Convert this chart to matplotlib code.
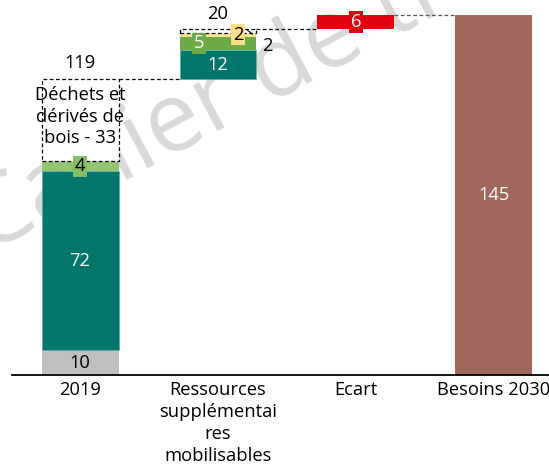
import matplotlib
matplotlib.use("Agg")
import matplotlib.pyplot as plt
import numpy as np

plt.rcParams['font.family'] = ['Open Sans', 'DejaVu Sans']

CATEGORIES = ["2019", "Ressources\nsupplémentai\nres\nmobilisables", "Ecart", "Besoins 2030"]

# 2019 stack (bottom -> top)
Y2019_VALUES = [10, 72, 4, 33]
Y2019_LABELS = ["10", "72", "4", "Déchets et\ndérivés de\nbois - 33"]

# additional mobilisable resources (bottom -> top)
RES_VALUES = [12, 5, 1.6, 1.7]
RES_LABELS = ["12", "5", "2", "2"]

ECART = 5.7
ECART_LABEL = "6"
BESOINS = 145
TOTAL_LABELS = ["119", "20"]

GRAY = "#bfbfbf"
TEAL = "#00766c"
GREEN_LIGHT = "#93c572"
GREEN = "#6dab48"
YELLOW = "#fde290"
RED = "#e1000f"
BROWN = "#a0685a"
W = 0.558
FS = 13.2


def dashed_box(ax, x, bottom, h):
    ax.bar(x, h, W, bottom=bottom, color="white", edgecolor="black",
           linestyle=(0, (3, 2)), linewidth=0.9, zorder=2)


def main():
    fig = plt.figure(figsize=(5.49, 4.70), dpi=100)
    ax = fig.add_axes([12 / 549, 95 / 470, 537 / 549, 375 / 470])
    ax.set_xlim(-0.493, 3.399)
    ax.set_ylim(0, 151)

    # watermark
    fig.text(-0.025, 1 - 254 / 470, "Cahier de travail", fontsize=70, color="#d9d9d9",
             rotation=28, rotation_mode="anchor", ha="left", va="baseline", zorder=0)
    ax.set_zorder(1)
    ax.patch.set_alpha(0)

    x = np.arange(len(CATEGORIES))

    # 2019
    b = np.concatenate([[0], np.cumsum(Y2019_VALUES)[:-1]])
    ax.bar(x[0], Y2019_VALUES[0], W, bottom=b[0], color=GRAY, zorder=2)
    ax.bar(x[0], Y2019_VALUES[1], W, bottom=b[1], color=TEAL, edgecolor="#5fb0a8", linewidth=0.5, zorder=2)
    ax.bar(x[0], Y2019_VALUES[2], W, bottom=b[2], color=GREEN_LIGHT, zorder=2)
    dashed_box(ax, x[0], b[3], Y2019_VALUES[3])
    tot2019 = sum(Y2019_VALUES)

    ax.text(x[0], b[0] + Y2019_VALUES[0] / 2, Y2019_LABELS[0], ha="center", va="center", fontsize=FS, zorder=3)
    ax.text(x[0], b[1] + Y2019_VALUES[1] / 2, Y2019_LABELS[1], ha="center", va="center", fontsize=FS,
            color="white", zorder=3)
    ax.text(x[0], b[2] + Y2019_VALUES[2] / 2, Y2019_LABELS[2], ha="center", va="center", fontsize=FS, zorder=3,
            bbox=dict(boxstyle="square,pad=0.1", fc="#86be66", ec="none"))
    ax.text(x[0], b[3] + Y2019_VALUES[3] / 2 + 1.5, Y2019_LABELS[3], ha="center", va="center", fontsize=FS,
            linespacing=1.25, zorder=3)
    ax.text(x[0], tot2019 + 3, TOTAL_LABELS[0], ha="center", va="bottom", fontsize=FS)

    # additional resources
    rb = tot2019 + np.concatenate([[0], np.cumsum(RES_VALUES)[:-1]])
    ax.bar(x[1], RES_VALUES[0], W, bottom=rb[0], color=TEAL, edgecolor="#5fb0a8", linewidth=0.5, zorder=2)
    ax.bar(x[1], RES_VALUES[1], W, bottom=rb[1], color=GREEN, zorder=2)
    ax.bar(x[1], RES_VALUES[2], W, bottom=rb[2], color=YELLOW, zorder=2)
    dashed_box(ax, x[1], rb[3], RES_VALUES[3])
    top_res = tot2019 + sum(RES_VALUES)

    ax.text(x[1], rb[0] + RES_VALUES[0] / 2, RES_LABELS[0], ha="center", va="center", fontsize=FS,
            color="white", zorder=3)
    ax.text(x[1] - 0.138, rb[1] + RES_VALUES[1] / 2, RES_LABELS[1], ha="center", va="center", fontsize=FS,
            color="white", zorder=3, bbox=dict(boxstyle="square,pad=0.1", fc=GREEN, ec="none"))
    ax.text(x[1] + 0.145, rb[2] + RES_VALUES[2] / 2 + 0.3, RES_LABELS[2], ha="center", va="center", fontsize=FS,
            zorder=3, bbox=dict(boxstyle="square,pad=0.1", fc="#fddd87", ec="none"))
    ax.annotate(RES_LABELS[3], xy=(x[1] + 0.21, rb[3] + 1.4), xytext=(x[1] + 0.355, rb[3] - 5),
                ha="center", va="center", fontsize=FS, zorder=3,
                arrowprops=dict(arrowstyle="-", color="black", lw=0.8, shrinkA=6, shrinkB=0))
    ax.text(x[1], top_res + 2.5, TOTAL_LABELS[1], ha="center", va="bottom", fontsize=FS)

    # gap
    ax.bar(x[2], ECART, W, bottom=top_res, color=RED, zorder=2)
    ax.text(x[2], top_res + ECART / 2, ECART_LABEL, ha="center", va="center", fontsize=FS, color="white",
            zorder=3, bbox=dict(boxstyle="square,pad=0.1", fc=RED, ec="none"))

    # needs 2030
    ax.bar(x[3], BESOINS, W, color=BROWN, zorder=2)
    ax.text(x[3], BESOINS / 2, str(BESOINS), ha="center", va="center", fontsize=FS, color="white", zorder=3)

    # connectors
    ls = dict(color="black", linestyle=(0, (3, 2)), linewidth=0.9, zorder=1)
    ax.plot([x[0] + W / 2, x[1] - W / 2], [tot2019, tot2019], **ls)
    ax.plot([x[1] + W / 2, x[2] - W / 2], [top_res, top_res], **ls)
    ax.plot([x[2] + W / 2, x[3] - W / 2], [BESOINS, BESOINS], color="#555555",
            linestyle=(0, (3, 2)), linewidth=0.9, zorder=1)

    for s in ["top", "right", "left"]:
        ax.spines[s].set_visible(False)
    ax.spines["bottom"].set_linewidth(1.3)
    ax.set_yticks([])
    ax.set_xticks(x)
    ax.set_xticklabels(CATEGORIES, fontsize=FS, linespacing=1.3)
    ax.tick_params(axis="x", length=0, pad=4)

    fig.savefig("out.png", dpi=100)
    plt.close(fig)


if __name__ == "__main__":
    main()
